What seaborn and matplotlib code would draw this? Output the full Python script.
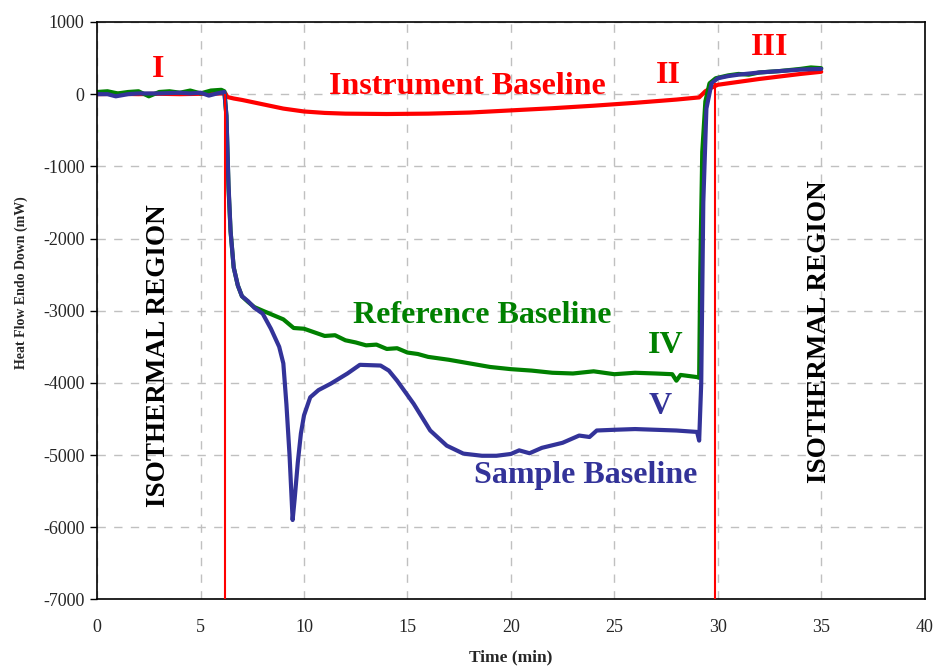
import pandas as pd
import seaborn as sns
import matplotlib.pyplot as plt

# Instrument baseline (red)
inst_time = [0, 1, 2, 3, 4, 5, 6, 6.2, 6.3, 6.6, 7, 8, 9, 10, 11, 12, 14, 16, 18, 20,
             22, 24, 26, 28, 29.1, 29.4, 29.7, 30, 31, 32, 33, 34, 35]
inst_flow = [0, 5, 0, 5, 0, 5, 10, 10, -40, -60, -80, -140, -200, -240, -260, -270, -275,
             -270, -255, -225, -195, -160, -120, -75, -45, 40, 90, 130, 170, 210, 245, 280, 310]

# Reference baseline (green)
ref_time = [0, 0.5, 1, 1.5, 2, 2.5, 3, 3.5, 4, 4.5, 5, 5.5, 6, 6.15, 6.25, 6.35, 6.45, 6.6,
            6.8, 7.0, 7.3, 7.6, 8, 8.5, 9, 9.5, 10, 10.5, 11, 11.5, 12, 12.5, 13, 13.5, 14,
            14.5, 15, 15.5, 16, 17, 18, 19, 20, 21, 22, 23, 24, 25, 26, 27, 27.8, 28, 28.2,
            29, 29.1, 29.15, 29.25, 29.4, 29.6, 29.9, 30.5, 31, 31.5, 32, 33, 34, 34.5, 35]
ref_flow = [30, 40, 10, 30, 40, -30, 30, 40, 20, 50, 10, 50, 60, 40, -300, -1300, -1900, -2400,
            -2650, -2800, -2880, -2950, -3000, -3060, -3120, -3240, -3250, -3300, -3350, -3340,
            -3410, -3440, -3480, -3470, -3530, -3520, -3580, -3600, -3640, -3680, -3730, -3780,
            -3810, -3830, -3860, -3870, -3840, -3880, -3860, -3870, -3880, -3970, -3890, -3920,
            -3930, -2500, -800, -100, 150, 220, 260, 280, 270, 300, 320, 350, 370, 360]

# Sample baseline (blue)
samp_time = [0, 0.5, 0.9, 1.5, 2, 3, 4, 4.5, 5, 5.4, 5.8, 6.15, 6.25, 6.35, 6.45, 6.6, 6.8,
             7.0, 7.3, 7.6, 8, 8.4, 8.8, 9.0, 9.15, 9.3, 9.45, 9.55, 9.7, 9.85, 10.0, 10.3,
             10.7, 11.3, 12.1, 12.7, 13.2, 13.7, 14.1, 14.5, 15.3, 16.1, 16.9, 17.7, 18.6,
             19.3, 20.0, 20.4, 20.9, 21.5, 22.5, 23.3, 23.8, 24.15, 25, 26, 27, 28, 29, 29.1,
             29.2, 29.3, 29.45, 29.7, 30, 30.5, 31, 32, 33, 34, 35]
samp_flow = [0, 0, -30, 0, 10, 10, 20, 10, 20, -20, 10, 30, -300, -1250, -1900, -2400, -2650,
             -2800, -2870, -2960, -3040, -3250, -3500, -3730, -4300, -5000, -5900, -5600,
             -5100, -4700, -4450, -4200, -4100, -4010, -3870, -3750, -3755, -3760, -3830,
             -3970, -4290, -4660, -4870, -4980, -5010, -5010, -4985, -4935, -4975, -4900,
             -4830, -4730, -4750, -4660, -4650, -4640, -4650, -4660, -4680, -4800,
             -4000, -1500, -200, 150, 220, 250, 270, 300, 320, 340, 350]

# Segment boundaries (isothermal start / end)
event_time = [6.2, 29.85]
event_top = [0, 150]

inst = pd.DataFrame({"time": inst_time, "flow": inst_flow})
ref = pd.DataFrame({"time": ref_time, "flow": ref_flow})
samp = pd.DataFrame({"time": samp_time, "flow": samp_flow})

sns.set_theme(style="white")
plt.rcParams["font.family"] = ["Liberation Serif", "DejaVu Serif"]
plt.rcParams["axes.unicode_minus"] = False

fig, ax = plt.subplots(figsize=(9.34, 6.66), dpi=100)
fig.subplots_adjust(left=0.104, right=0.990, top=0.967, bottom=0.100)

red, green, blue = "#FF0000", "#008000", "#333399"
sns.lineplot(data=inst, x="time", y="flow", sort=False, estimator=None, color=red, lw=3, ax=ax)
sns.lineplot(data=ref, x="time", y="flow", sort=False, estimator=None, color=green, lw=3, ax=ax)
sns.lineplot(data=samp, x="time", y="flow", sort=False, estimator=None, color=blue, lw=3, ax=ax)
ax.vlines(event_time, -7000, event_top, color=red, lw=1.5, zorder=5)

ax.set_xlim(0, 40)
ax.set_ylim(-7000, 1000)
ax.set_xticks(range(0, 41, 5))
ax.set_yticks(range(-7000, 1001, 1000))
ax.grid(True, color="#C0C0C0", linestyle=(0, (6, 6)), lw=1)
for s in ax.spines.values():
    s.set_color("black")
    s.set_linewidth(1.2)
ax.tick_params(axis="y", length=5, width=1, color="black", labelsize=13, pad=4, left=True)
ax.tick_params(axis="x", length=0, labelsize=13, pad=14)

ax.set_xlabel("Time (min)", fontsize=12.5, fontweight="bold")
ax.set_ylabel("Heat Flow Endo Down (mW)", fontsize=10, fontweight="bold")
ax.xaxis.set_label_coords(0.5, -0.087)
ax.yaxis.set_label_coords(-0.084, 0.548)

bold = dict(fontweight="bold", ha="center", va="center")
ax.text(2.95, 340, "I", color=red, fontsize=23, **bold)
ax.text(17.9, 110, "Instrument Baseline", color=red, fontsize=23, **bold)
ax.text(27.6, 260, "II", color=red, fontsize=23, **bold)
ax.text(32.5, 640, "III", color=red, fontsize=23, **bold)
ax.text(18.6, -3060, "Reference Baseline", color=green, fontsize=23, **bold)
ax.text(27.5, -3480, "IV", color=green, fontsize=23, **bold)
ax.text(27.2, -4330, "V", color=blue, fontsize=23, **bold)
ax.text(23.6, -5280, "Sample Baseline", color=blue, fontsize=23, **bold)
ax.text(2.95, -3620, "ISOTHERMAL REGION", color="black", fontsize=19.5, rotation=90, **bold)
ax.text(34.9, -3290, "ISOTHERMAL REGION", color="black", fontsize=19.5, rotation=90, **bold)

plt.savefig("out.png", dpi=100)
plt.close()
